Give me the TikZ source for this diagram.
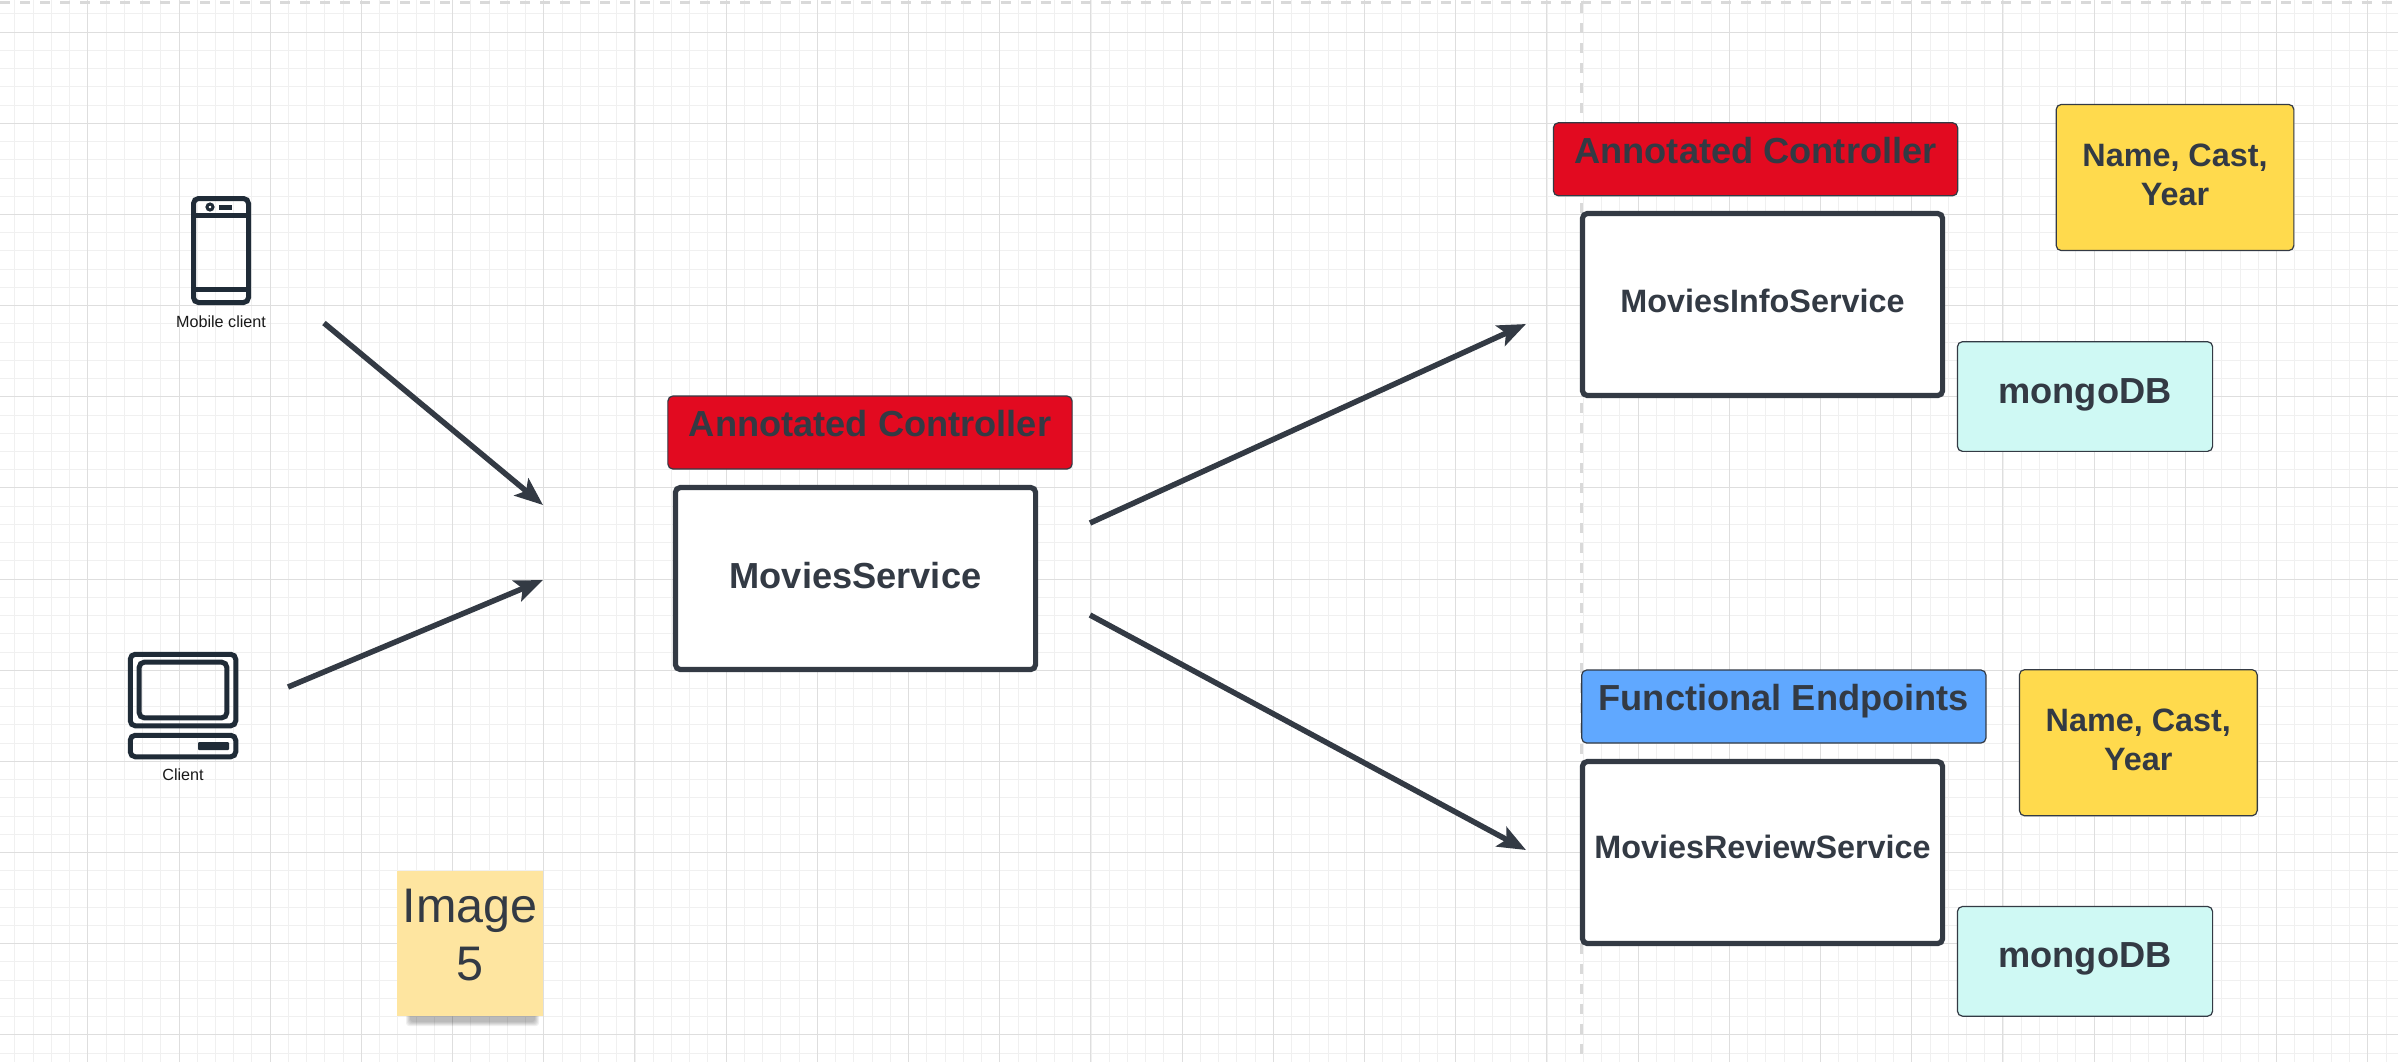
\documentclass[tikz,border=0pt]{standalone}
\usepackage{fontspec}
\setmainfont{Liberation Sans}
\usepackage{xcolor}
\usetikzlibrary{arrows.meta,positioning}

\definecolor{inkdark}{HTML}{333A44}
\definecolor{icondark}{HTML}{1F2B37}
\definecolor{tagred}{HTML}{E20A20}
\definecolor{tagblue}{HTML}{60A8FF}
\definecolor{noteyellow}{HTML}{FFDA4D}
\definecolor{dbcyan}{HTML}{CFF9F4}
\definecolor{sticky}{HTML}{FEE5A0}

\begin{document}
\begin{tikzpicture}[
    x=0.01cm, y=-0.01cm,
    gridminor/.style={draw=black!6, line width=0.012cm},
    gridmajor/.style={draw=black!13, line width=0.012cm},
    guide/.style={draw=black!15, line width=0.03cm, dash pattern=on 0.1cm off 0.1cm},
    service/.style={draw=inkdark, fill=white, line width=0.052cm, rounded corners=0.05cm,
        minimum width=3.6cm, minimum height=1.82cm, inner sep=0pt, text=inkdark,
        text height=0.3cm, font=\fontsize{10.3}{12}\selectfont\bfseries},
    tag/.style={draw=inkdark, line width=0.012cm, rounded corners=0.05cm,
        minimum width=4.04cm, minimum height=0.73cm, inner sep=0pt, text=inkdark,
        text height=0.3cm, text depth=0.22cm, font=\fontsize{10.3}{12}\selectfont\bfseries},
    note/.style={draw=inkdark, fill=noteyellow, line width=0.012cm, rounded corners=0.05cm,
        minimum width=2.375cm, minimum height=1.46cm, inner sep=0pt, text=inkdark, align=center,
        text depth=0.06cm, font=\fontsize{9.2}{11.1}\selectfont\bfseries},
    db/.style={draw=inkdark, fill=dbcyan, line width=0.012cm, rounded corners=0.05cm,
        minimum width=2.55cm, minimum height=1.096cm, inner sep=0pt, text=inkdark,
        text height=0.3cm, text depth=0.17cm, font=\fontsize{10.3}{12}\selectfont\bfseries},
    icon/.style={draw=icondark, line width=0.05cm, rounded corners=0.05cm},
    iconlabel/.style={anchor=base, inner sep=0pt, text=black!90, font=\fontsize{4.6}{5.5}\selectfont},
    arrow/.style={draw=inkdark, line width=0.055cm,
        -{Stealth[length=0.28cm, width=0.22cm, inset=0.06cm]}}
]
    \useasboundingbox (0,0) rectangle (2398,1062);
    \fill[white] (0,0) rectangle (2398,1062);

    % Background grid
    \foreach \k in {0,...,132}
        \draw[gridminor] ({round(-3.9+18.24*\k)+0.5},0) -- ({round(-3.9+18.24*\k)+0.5},1062);
    \foreach \k in {0,...,58}
        \draw[gridminor] (0,{round(13.47+18.23*\k)+0.5}) -- (2398,{round(13.47+18.23*\k)+0.5});
    \foreach \k in {0,...,26}
        \draw[gridmajor] ({round(-3.9+91.2*\k)+0.5},0) -- ({round(-3.9+91.2*\k)+0.5},1062);
    \foreach \k in {0,...,11}
        \draw[gridmajor] (0,{round(31.7+91.15*\k)+0.5}) -- (2398,{round(31.7+91.15*\k)+0.5});

    % Page edges
    \draw[guide] (0,2) -- (2398,2);
    \draw[guide] (1581,3) -- (1581,1062);

    % Mobile client icon
    \draw[icon] (193.5,198.5) rectangle (248.5,302.5);
    \draw[icon] (193.5,215) -- (248.5,215);
    \draw[icon] (193.5,289) -- (248.5,289);
    \draw[icondark, line width=0.03cm] (210,207) circle (3);
    \draw[icon] (219,207) -- (232,207);
    \node[iconlabel] (mobilelabel) at (221,327) {Mobile client};

    % Client icon
    \draw[icon] (130.25,654.25) rectangle (235.75,725.75);
    \draw[icon] (139.2,662.2) rectangle (226.8,717.8);
    \draw[icon] (130.25,735.25) rectangle (235.75,756.75);
    \fill[icondark, rounded corners=0.01cm] (198,742) rectangle (229,750);
    \node[iconlabel] (clientlabel) at (183,780.7) {Client};

    % Sticky note with its shadow
    \foreach \d in {0,...,4}
        \fill[black, opacity=0.06, rounded corners=0.03cm]
            ({406+\d},1012) rectangle ({539-\d},{1026-\d});
    \node[fill=sticky, minimum width=1.46cm, minimum height=1.45cm, inner sep=0pt, align=center,
        text=inkdark, text depth=0.17cm, font=\fontsize{13.8}{16.6}\selectfont]
        (image) at (470,943.5) {Image\\5};

    % Middle service
    \node[tag, fill=tagred] (middletag) at (870,432.5) {Annotated Controller};
    \node[service, text depth=0.1cm] (movies) at (855.5,578.5) {MoviesService};

    % Upper service
    \node[tag, fill=tagred] (infotag) at (1755.5,159.25) {Annotated Controller};
    \node[service, text depth=0.15cm, font=\fontsize{9.2}{11}\selectfont\bfseries]
        (info) at (1762.5,304.5) {MoviesInfoService};
    \node[note] (infonote) at (2175,177.5) {Name, Cast,\\Year};
    \node[db] (infodb) at (2085,396.5) {mongoDB};

    % Lower service
    \node[tag, fill=tagblue] (reviewtag) at (1783.8,706.5) {Functional Endpoints};
    \node[service, text depth=0.19cm, font=\fontsize{9.2}{11}\selectfont\bfseries]
        (review) at (1762.5,852.5) {MoviesReviewService};
    \node[note] (reviewnote) at (2138.3,742.7) {Name, Cast,\\Year};
    \node[db] (reviewdb) at (2085,961.3) {mongoDB};

    % Free arrow ends
    \coordinate (mobilefrom) at (324,323);
    \coordinate (mobileto) at (543,505);
    \coordinate (clientfrom) at (288,687);
    \coordinate (clientto) at (543,580);
    \coordinate (infofrom) at (1090,523);
    \coordinate (infoto) at (1526,324);
    \coordinate (reviewfrom) at (1090,615);
    \coordinate (reviewto) at (1526,850);

    % Arrows
    \draw[arrow] (mobilefrom) -- (mobileto);
    \draw[arrow] (clientfrom) -- (clientto);
    \draw[arrow] (infofrom) -- (infoto);
    \draw[arrow] (reviewfrom) -- (reviewto);
\end{tikzpicture}
\end{document}
